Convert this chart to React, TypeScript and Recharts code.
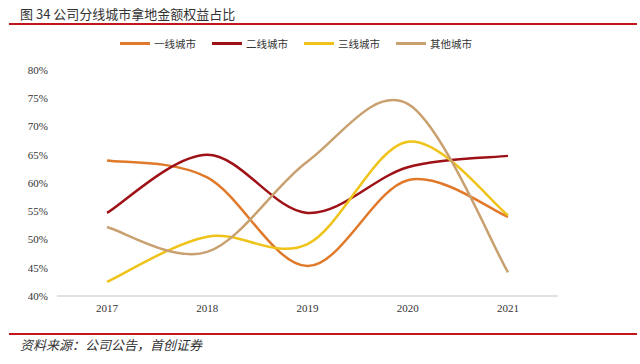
import { LineChart, Line, XAxis, YAxis } from 'recharts'

// 分线城市拿地金额权益占比 (%)
const years = ['2017', '2018', '2019', '2020', '2021']
const tier1 = [64.0, 61.0, 45.3, 60.5, 54.0]
const tier2 = [54.7, 65.0, 54.7, 62.8, 64.8]
const tier3 = [42.5, 50.5, 49.2, 67.3, 54.3]
const others = [52.2, 47.8, 63.8, 74.0, 44.2]
const yTicks = [40, 45, 50, 55, 60, 65, 70, 75, 80]

const series = [
  { key: 'tier1', name: '一线城市', color: '#E07A2A' },
  { key: 'tier2', name: '二线城市', color: '#9E1116' },
  { key: 'tier3', name: '三线城市', color: '#EFC319' },
  { key: 'others', name: '其他城市', color: '#C9A06F' },
]

const data = years.map((year, i) => ({
  year,
  tier1: tier1[i],
  tier2: tier2[i],
  tier3: tier3[i],
  others: others[i],
}))

// excel-like smoothed line (catmull-rom, k = 1/6)
const smoothCurve = (ctx: any) => {
  let pts: number[][] = []
  return {
    areaStart() {},
    areaEnd() {},
    lineStart() { pts = [] },
    point(x: number, y: number) { pts.push([x, y]) },
    lineEnd() {
      if (!pts.length) return
      ctx.moveTo(pts[0][0], pts[0][1])
      for (let i = 0; i < pts.length - 1; i++) {
        const p0 = pts[i - 1] || pts[i]
        const p1 = pts[i]
        const p2 = pts[i + 1]
        const p3 = pts[i + 2] || pts[i + 1]
        ctx.bezierCurveTo(
          p1[0] + (p2[0] - p0[0]) / 6, p1[1] + (p2[1] - p0[1]) / 6,
          p2[0] - (p3[0] - p1[0]) / 6, p2[1] - (p3[1] - p1[1]) / 6,
          p2[0], p2[1]
        )
      }
    },
  }
}

const serif = '"Times New Roman", "Liberation Serif", serif'
const cjk = '"Noto Sans CJK SC", sans-serif'
const tickStyle = { fontSize: 11, fill: '#333', fontFamily: serif }

export default function App() {
  return (
    <div style={{ position: 'absolute', left: 0, top: 0, width: 640, height: 364, background: '#fff' }}>
      <div style={{ position: 'absolute', left: 20, top: 4, fontSize: 13, lineHeight: '20px', color: '#333', fontFamily: cjk }}>
        图 34 公司分线城市拿地金额权益占比
      </div>
      <div style={{ position: 'absolute', left: 9, right: 3, top: 23, height: 1.5, background: '#C0161C' }} />

      <div style={{ position: 'absolute', left: 120, top: 35, height: 16, display: 'flex', gap: 16, fontSize: 10.5, color: '#333', fontFamily: cjk }}>
        {series.map(s => (
          <div key={s.key} style={{ display: 'flex', alignItems: 'center', gap: 4 }}>
            <span style={{ width: 30, height: 3, background: s.color, display: 'inline-block' }} />
            <span>{s.name}</span>
          </div>
        ))}
      </div>

      <LineChart
        width={640}
        height={364}
        data={data}
        margin={{ top: 70, right: 82, bottom: 38, left: 12 }}
        style={{ position: 'absolute', left: 0, top: 0 }}
      >
        <XAxis
          dataKey="year"
          padding={{ left: 50, right: 50 }}
          axisLine={{ stroke: '#d9d9d9', strokeWidth: 1.5 }}
          tickLine={false}
          tickSize={0}
          tickMargin={8}
          height={30}
          tick={tickStyle}
        />
        <YAxis
          domain={[40, 80]}
          ticks={yTicks}
          tickFormatter={(v: number) => `${v}%`}
          axisLine={false}
          tickLine={false}
          tickSize={0}
          tickMargin={9}
          width={45}
          tick={tickStyle}
        />
        {series.map(s => (
          <Line
            key={s.key}
            dataKey={s.key}
            name={s.name}
            type={smoothCurve as any}
            stroke={s.color}
            strokeWidth={2.5}
            dot={false}
            activeDot={false}
            isAnimationActive={false}
          />
        ))}
      </LineChart>

      <div style={{ position: 'absolute', left: 9, right: 3, top: 333, height: 1.5, background: '#C0161C' }} />
      <div style={{ position: 'absolute', left: 20, top: 336, fontSize: 13, lineHeight: '18px', fontStyle: 'italic', color: '#333', fontFamily: cjk }}>
        资料来源：公司公告，首创证券
      </div>
    </div>
  )
}
